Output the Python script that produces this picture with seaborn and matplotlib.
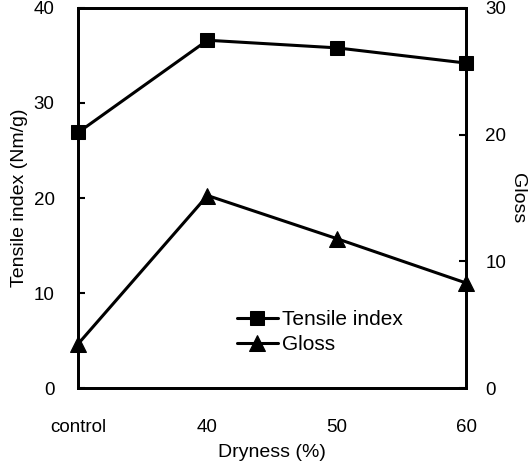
import matplotlib
matplotlib.use("Agg")
import matplotlib.pyplot as plt
import seaborn as sns
import pandas as pd

# --- data ---
dryness = ["control", "40", "50", "60"]
tensile_index = [26.9, 36.6, 35.8, 34.2]   # Nm/g, left axis
gloss = [3.5, 15.2, 11.8, 8.3]             # right axis

df = pd.DataFrame({"dryness": dryness, "tensile": tensile_index, "gloss": gloss})

sns.set_style("white")
plt.rcParams["font.family"] = ["Liberation Sans", "DejaVu Sans"]
plt.rcParams["text.color"] = "black"
plt.rcParams["axes.labelcolor"] = "black"

fig = plt.figure(figsize=(5.32, 4.66), dpi=100)
ax = fig.add_axes([0.147, 0.167, 0.729, 0.816])

sns.lineplot(data=df, x="dryness", y="tensile", ax=ax, color="black",
             marker="s", markersize=10, linewidth=2.2, markeredgecolor="black",
             sort=False, label="Tensile index", legend=False, clip_on=False)
ax2 = ax.twinx()
sns.lineplot(data=df, x="dryness", y="gloss", ax=ax2, color="black",
             marker="^", markersize=12, linewidth=2.2, markeredgecolor="black",
             sort=False, label="Gloss", legend=False, clip_on=False)

ax.set_xlim(0, 3)
ax.set_ylim(0, 40)
ax2.set_ylim(0, 30)
ax.set_yticks([0, 10, 20, 30, 40])
ax2.set_yticks([0, 10, 20, 30])

for a in (ax, ax2):
    for s in a.spines.values():
        s.set_linewidth(2)
        s.set_color("black")
    a.tick_params(direction="in", length=5, width=1.5, colors="black",
                  labelsize=13.5, pad=17)
ax.tick_params(axis="x", pad=22)
ax2.tick_params(axis="y", pad=14)

ax.set_xlabel("Dryness (%)", fontsize=14, labelpad=6)
ax.set_ylabel("Tensile index (Nm/g)", fontsize=14, labelpad=4)
ax2.set_ylabel("Gloss", fontsize=14, rotation=270, labelpad=14)

h1, l1 = ax.get_legend_handles_labels()
h2, l2 = ax2.get_legend_handles_labels()
ax2.legend(h1 + h2, l1 + l2, loc="lower left", bbox_to_anchor=(0.36, 0.04),
           frameon=False, fontsize=15, handlelength=2.0, handletextpad=0.2,
           labelspacing=0.3)

fig.savefig("out.png", dpi=100)
